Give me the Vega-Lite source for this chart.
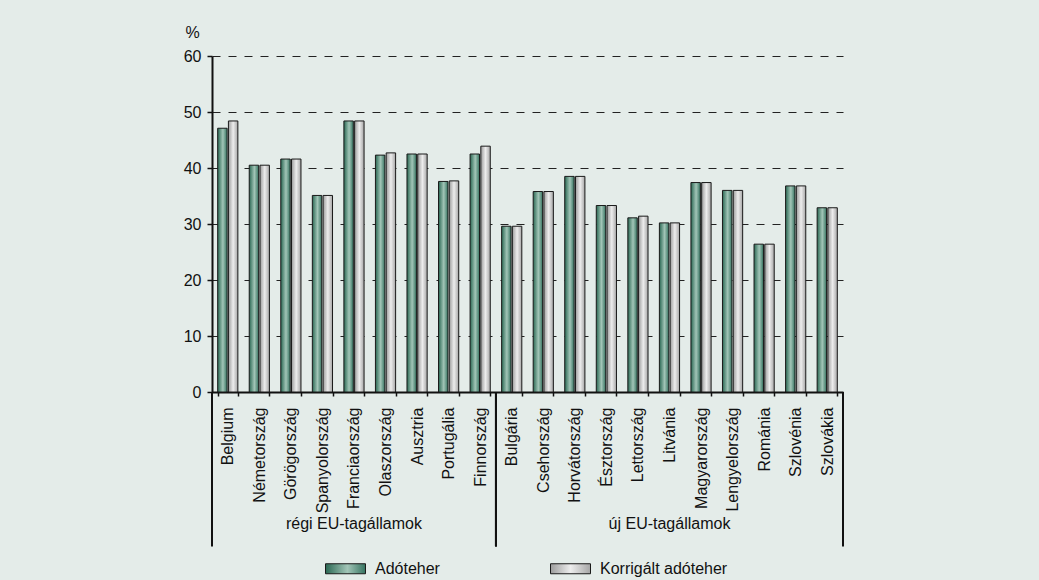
{
  "$schema": "https://vega.github.io/schema/vega-lite/v6.json",
  "width": 631,
  "height": 336,
  "autosize": {"type": "none"},
  "padding": {"left": 212, "top": 56, "right": 196, "bottom": 188},
  "background": "#e4ece9",
  "config": {
    "view": {"stroke": null},
    "font": "Liberation Sans",
    "text": {"font": "Liberation Sans"}
  },
  "datasets": {
    "burden": [
      {"orszag": "Belgium", "csoport": "régi EU-tagállamok", "mutato": "Adóteher", "ertek": 47.1},
      {"orszag": "Belgium", "csoport": "régi EU-tagállamok", "mutato": "Korrigált adóteher", "ertek": 48.4},
      {"orszag": "Németország", "csoport": "régi EU-tagállamok", "mutato": "Adóteher", "ertek": 40.5},
      {"orszag": "Németország", "csoport": "régi EU-tagállamok", "mutato": "Korrigált adóteher", "ertek": 40.5},
      {"orszag": "Görögország", "csoport": "régi EU-tagállamok", "mutato": "Adóteher", "ertek": 41.6},
      {"orszag": "Görögország", "csoport": "régi EU-tagállamok", "mutato": "Korrigált adóteher", "ertek": 41.6},
      {"orszag": "Spanyolország", "csoport": "régi EU-tagállamok", "mutato": "Adóteher", "ertek": 35.1},
      {"orszag": "Spanyolország", "csoport": "régi EU-tagállamok", "mutato": "Korrigált adóteher", "ertek": 35.1},
      {"orszag": "Franciaország", "csoport": "régi EU-tagállamok", "mutato": "Adóteher", "ertek": 48.4},
      {"orszag": "Franciaország", "csoport": "régi EU-tagállamok", "mutato": "Korrigált adóteher", "ertek": 48.4},
      {"orszag": "Olaszország", "csoport": "régi EU-tagállamok", "mutato": "Adóteher", "ertek": 42.3},
      {"orszag": "Olaszország", "csoport": "régi EU-tagállamok", "mutato": "Korrigált adóteher", "ertek": 42.7},
      {"orszag": "Ausztria", "csoport": "régi EU-tagállamok", "mutato": "Adóteher", "ertek": 42.5},
      {"orszag": "Ausztria", "csoport": "régi EU-tagállamok", "mutato": "Korrigált adóteher", "ertek": 42.5},
      {"orszag": "Portugália", "csoport": "régi EU-tagállamok", "mutato": "Adóteher", "ertek": 37.6},
      {"orszag": "Portugália", "csoport": "régi EU-tagállamok", "mutato": "Korrigált adóteher", "ertek": 37.7},
      {"orszag": "Finnország", "csoport": "régi EU-tagállamok", "mutato": "Adóteher", "ertek": 42.5},
      {"orszag": "Finnország", "csoport": "régi EU-tagállamok", "mutato": "Korrigált adóteher", "ertek": 43.9},
      {"orszag": "Bulgária", "csoport": "új EU-tagállamok", "mutato": "Adóteher", "ertek": 29.6},
      {"orszag": "Bulgária", "csoport": "új EU-tagállamok", "mutato": "Korrigált adóteher", "ertek": 29.6},
      {"orszag": "Csehország", "csoport": "új EU-tagállamok", "mutato": "Adóteher", "ertek": 35.8},
      {"orszag": "Csehország", "csoport": "új EU-tagállamok", "mutato": "Korrigált adóteher", "ertek": 35.8},
      {"orszag": "Horvátország", "csoport": "új EU-tagállamok", "mutato": "Adóteher", "ertek": 38.5},
      {"orszag": "Horvátország", "csoport": "új EU-tagállamok", "mutato": "Korrigált adóteher", "ertek": 38.5},
      {"orszag": "Észtország", "csoport": "új EU-tagállamok", "mutato": "Adóteher", "ertek": 33.3},
      {"orszag": "Észtország", "csoport": "új EU-tagállamok", "mutato": "Korrigált adóteher", "ertek": 33.3},
      {"orszag": "Lettország", "csoport": "új EU-tagállamok", "mutato": "Adóteher", "ertek": 31.1},
      {"orszag": "Lettország", "csoport": "új EU-tagállamok", "mutato": "Korrigált adóteher", "ertek": 31.4},
      {"orszag": "Litvánia", "csoport": "új EU-tagállamok", "mutato": "Adóteher", "ertek": 30.2},
      {"orszag": "Litvánia", "csoport": "új EU-tagállamok", "mutato": "Korrigált adóteher", "ertek": 30.2},
      {"orszag": "Magyarország", "csoport": "új EU-tagállamok", "mutato": "Adóteher", "ertek": 37.4},
      {"orszag": "Magyarország", "csoport": "új EU-tagállamok", "mutato": "Korrigált adóteher", "ertek": 37.4},
      {"orszag": "Lengyelország", "csoport": "új EU-tagállamok", "mutato": "Adóteher", "ertek": 36.0},
      {"orszag": "Lengyelország", "csoport": "új EU-tagállamok", "mutato": "Korrigált adóteher", "ertek": 36.0},
      {"orszag": "Románia", "csoport": "új EU-tagállamok", "mutato": "Adóteher", "ertek": 26.4},
      {"orszag": "Románia", "csoport": "új EU-tagállamok", "mutato": "Korrigált adóteher", "ertek": 26.4},
      {"orszag": "Szlovénia", "csoport": "új EU-tagállamok", "mutato": "Adóteher", "ertek": 36.8},
      {"orszag": "Szlovénia", "csoport": "új EU-tagállamok", "mutato": "Korrigált adóteher", "ertek": 36.8},
      {"orszag": "Szlovákia", "csoport": "új EU-tagállamok", "mutato": "Adóteher", "ertek": 32.9},
      {"orszag": "Szlovákia", "csoport": "új EU-tagállamok", "mutato": "Korrigált adóteher", "ertek": 32.9}
    ],
    "groups": [
      {"csoport": "régi EU-tagállamok", "elso": "Belgium", "utolso": "Finnország", "kozep": "Franciaország"},
      {"csoport": "új EU-tagállamok", "elso": "Bulgária", "utolso": "Szlovákia", "kozep": "Litvánia"}
    ]
  },
  "layer": [
    {
      "data": {"name": "burden"},
      "mark": {"type": "bar", "stroke": "#1a1a1a", "strokeWidth": 1},
      "encoding": {
        "x": {
          "field": "orszag",
          "type": "nominal",
          "scale": {
            "domain": ["Belgium", "Németország", "Görögország", "Spanyolország", "Franciaország", "Olaszország", "Ausztria", "Portugália", "Finnország", "Bulgária", "Csehország", "Horvátország", "Észtország", "Lettország", "Litvánia", "Magyarország", "Lengyelország", "Románia", "Szlovénia", "Szlovákia"],
            "paddingInner": 0.36,
            "paddingOuter": 0.18
          },
          "axis": {
            "title": null,
            "labelAngle": -90,
            "labelAlign": "right",
            "labelBaseline": "middle",
            "labelPadding": 11,
            "labelFont": "Liberation Sans",
            "labelFontSize": 16,
            "labelColor": "#111111",
            "labelLimit": 300,
            "tickBand": "extent",
            "tickSize": 4,
            "tickWidth": 1.5,
            "tickColor": "#111111",
            "domainColor": "#111111",
            "domainWidth": 2,
            "grid": false
          }
        },
        "xOffset": {
          "field": "mutato",
          "type": "nominal",
          "scale": {"domain": ["Adóteher", "Korrigált adóteher"], "paddingInner": 0.12}
        },
        "y": {
          "field": "ertek",
          "type": "quantitative",
          "scale": {"domain": [0, 60], "nice": false},
          "axis": {
            "title": "%",
            "titleAngle": 0,
            "titleX": -20,
            "titleY": -24,
            "titleAlign": "center",
            "titleBaseline": "middle",
            "titleFont": "Liberation Sans",
            "titleFontSize": 16,
            "titleFontWeight": "normal",
            "titleColor": "#111111",
            "values": [0, 10, 20, 30, 40, 50, 60],
            "labelFont": "Liberation Sans",
            "labelFontSize": 16,
            "labelColor": "#111111",
            "labelPadding": 6,
            "tickSize": 5,
            "tickWidth": 1.5,
            "tickColor": "#111111",
            "domainColor": "#111111",
            "domainWidth": 2,
            "grid": true,
            "gridColor": "#222222",
            "gridWidth": 1,
            "gridDash": [8, 8]
          }
        },
        "fill": {
          "field": "mutato",
          "type": "nominal",
          "scale": {
            "domain": ["Adóteher", "Korrigált adóteher"],
            "range": [
              {"expr": "({gradient: 'linear', x1: 0, x2: 1, y1: 0, y2: 0, stops: [{offset: 0, color: '#2a6853'}, {offset: 0.55, color: '#a2c5b7'}, {offset: 1, color: '#357360'}]})"},
              {"expr": "({gradient: 'linear', x1: 0, x2: 1, y1: 0, y2: 0, stops: [{offset: 0, color: '#9c9c9c'}, {offset: 0.5, color: '#ededed'}, {offset: 1, color: '#a6a6a6'}]})"}
            ]
          },
          "legend": {
            "title": null,
            "orient": "none",
            "legendX": 113,
            "legendY": 492,
            "direction": "horizontal",
            "columns": 2,
            "columnPadding": 108,
            "padding": 0,
            "symbolType": "M-1,-0.25H1V0.25H-1Z",
            "symbolSize": 1600,
            "symbolStrokeColor": "#1a1a1a",
            "symbolStrokeWidth": 1,
            "symbolOpacity": 1,
            "labelFont": "Liberation Sans",
            "labelFontSize": 16,
            "labelColor": "#111111",
            "labelOffset": 9
          }
        }
      }
    },
    {
      "data": {"name": "groups"},
      "mark": {"type": "rule", "color": "#111111", "strokeWidth": 2},
      "encoding": {
        "x": {
          "field": "elso",
          "type": "nominal",
          "bandPosition": -0.28125,
          "scale": {"domain": ["Belgium", "Németország", "Görögország", "Spanyolország", "Franciaország", "Olaszország", "Ausztria", "Portugália", "Finnország", "Bulgária", "Csehország", "Horvátország", "Észtország", "Lettország", "Litvánia", "Magyarország", "Lengyelország", "Románia", "Szlovénia", "Szlovákia"]}
        },
        "y": {"datum": 0, "type": "quantitative", "scale": {"domain": [0, 60], "nice": false}},
        "y2": {"datum": -27.6}
      }
    },
    {
      "data": {"name": "groups"},
      "mark": {"type": "rule", "color": "#111111", "strokeWidth": 2},
      "encoding": {
        "x": {
          "field": "utolso",
          "type": "nominal",
          "bandPosition": 1.28125,
          "scale": {"domain": ["Belgium", "Németország", "Görögország", "Spanyolország", "Franciaország", "Olaszország", "Ausztria", "Portugália", "Finnország", "Bulgária", "Csehország", "Horvátország", "Észtország", "Lettország", "Litvánia", "Magyarország", "Lengyelország", "Románia", "Szlovénia", "Szlovákia"]}
        },
        "y": {"datum": 0, "type": "quantitative", "scale": {"domain": [0, 60], "nice": false}},
        "y2": {"datum": -27.6}
      }
    },
    {
      "mark": {"type": "rule", "color": "#111111", "strokeWidth": 2},
      "encoding": {
        "x": {
          "datum": "Szlovákia",
          "type": "nominal",
          "bandPosition": 1.28125,
          "scale": {"domain": ["Belgium", "Németország", "Görögország", "Spanyolország", "Franciaország", "Olaszország", "Ausztria", "Portugália", "Finnország", "Bulgária", "Csehország", "Horvátország", "Észtország", "Lettország", "Litvánia", "Magyarország", "Lengyelország", "Románia", "Szlovénia", "Szlovákia"]}
        },
        "y": {"datum": 60, "type": "quantitative", "scale": {"domain": [0, 60], "nice": false}},
        "y2": {"datum": 0}
      }
    },
    {
      "data": {"name": "groups"},
      "mark": {"type": "text", "font": "Liberation Sans", "fontSize": 16, "color": "#111111", "baseline": "middle", "align": "center"},
      "encoding": {
        "x": {
          "field": "kozep",
          "type": "nominal",
          "scale": {"domain": ["Belgium", "Németország", "Görögország", "Spanyolország", "Franciaország", "Olaszország", "Ausztria", "Portugália", "Finnország", "Bulgária", "Csehország", "Horvátország", "Észtország", "Lettország", "Litvánia", "Magyarország", "Lengyelország", "Románia", "Szlovénia", "Szlovákia"]}
        },
        "y": {"datum": -23.5, "type": "quantitative", "scale": {"domain": [0, 60], "nice": false}},
        "text": {"field": "csoport"}
      }
    }
  ]
}
